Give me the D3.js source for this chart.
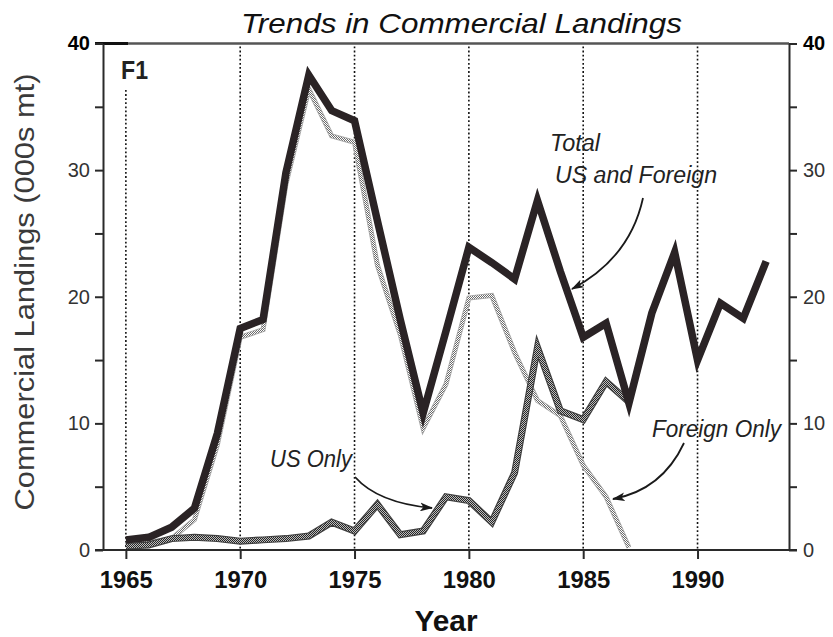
<!DOCTYPE html>
<html>
<head>
<meta charset="utf-8">
<script src="https://cdn.jsdelivr.net/npm/d3@7"></script>
<style>
  html, body { margin: 0; padding: 0; background: #fff; }
  svg { display: block; font-family: "Liberation Sans", Arial, Helvetica, sans-serif; }
</style>
</head>
<body>
<svg id="chart" width="833" height="637"></svg>
<script>
// ---------- data ----------
const years = [1965,1966,1967,1968,1969,1970,1971,1972,1973,1974,1975,1976,1977,1978,1979,
               1980,1981,1982,1983,1984,1985,1986,1987,1988,1989,1990,1991,1992,1993];
const totalValues = [0.8,1.0,1.8,3.3,9.2,17.5,18.2,29.8,37.5,34.7,33.9,26.0,18.2,10.8,17.3,
                     23.9,22.7,21.4,27.6,22.0,16.8,17.9,11.6,18.7,23.5,15.0,19.5,18.3,22.8];
const partYears = [1965,1966,1967,1968,1969,1970,1971,1972,1973,1974,1975,1976,1977,1978,1979,
                   1980,1981,1982,1983,1984,1985,1986,1987];
const usValues = [0.3,0.4,0.9,1.0,0.9,0.7,0.8,0.9,1.1,2.2,1.5,3.6,1.2,1.5,4.2,
                  3.9,2.2,6.1,16.0,11.0,10.3,13.3,11.7];
const foreignValues = [0.5,0.6,0.9,2.4,8.3,16.8,17.4,28.9,36.4,32.7,32.2,22.5,17.0,9.6,13.1,
                       19.9,20.1,15.6,11.8,10.6,6.7,4.2,0.2];
const xTicks = [1965,1970,1975,1980,1985,1990];
const yTicks = [0,5,10,15,20,25,30,35,40];

const titleText = "Trends in Commercial Landings";
const xLabel = "Year";
const yLabel = "Commercial Landings (000s mt)";

// ---------- layout ----------
const svg = d3.select("#chart");
const L = 103, R = 789, T = 43.5, B = 550;
const x = d3.scaleLinear().domain([1964, 1994]).range([L, R]);
const y = d3.scaleLinear().domain([0, 40]).range([B, T]);

const defs = svg.append("defs");
const pUS = defs.append("pattern").attr("id","pUS").attr("patternUnits","userSpaceOnUse")
  .attr("width",2).attr("height",2);
pUS.append("rect").attr("width",2).attr("height",2).attr("fill","#bdbdbd");
pUS.append("rect").attr("x",0).attr("y",0).attr("width",1).attr("height",1).attr("fill","#262626");
pUS.append("rect").attr("x",1).attr("y",1).attr("width",1).attr("height",1).attr("fill","#262626");

const pF = defs.append("pattern").attr("id","pF").attr("patternUnits","userSpaceOnUse")
  .attr("width",2).attr("height",2);
pF.append("rect").attr("width",2).attr("height",2).attr("fill","#ffffff");
pF.append("rect").attr("x",0).attr("y",0).attr("width",1).attr("height",1).attr("fill","#6a6a6a");
pF.append("rect").attr("x",1).attr("y",1).attr("width",1).attr("height",1).attr("fill","#6a6a6a");

defs.append("marker").attr("id","arrow").attr("markerUnits","userSpaceOnUse")
  .attr("viewBox","0 0 12 8").attr("refX",11).attr("refY",4)
  .attr("markerWidth",13).attr("markerHeight",9).attr("orient","auto")
  .append("path").attr("d","M0,0 L12,4 L0,8 L3,4 Z").attr("fill","#1a1a1a");

// ---------- grid (dotted verticals) ----------
svg.append("g").selectAll("line").data(xTicks).join("line")
  .attr("x1", d => x(d)).attr("x2", d => x(d))
  .attr("y1", d => d === 1965 ? 90 : T + 3).attr("y2", B)
  .attr("stroke","#111").attr("stroke-width",1.6).attr("stroke-dasharray","1.8,2.3");

// ---------- lines ----------
const lineT = d3.line().x((d,i) => x(years[i])).y(d => y(d));
const lineP = d3.line().x((d,i) => x(partYears[i])).y(d => y(d));

svg.append("path").attr("d", lineP(foreignValues)).attr("fill","none")
  .attr("stroke","#a8a8a8").attr("stroke-width",5).attr("stroke-linejoin","miter");
svg.append("path").attr("d", lineP(foreignValues)).attr("fill","none")
  .attr("stroke","url(#pF)").attr("stroke-width",3.2).attr("stroke-linejoin","miter");

svg.append("path").attr("d", lineP(usValues)).attr("fill","none")
  .attr("stroke","#404040").attr("stroke-width",7).attr("stroke-linejoin","miter");
svg.append("path").attr("d", lineP(usValues)).attr("fill","none")
  .attr("stroke","url(#pUS)").attr("stroke-width",4.6).attr("stroke-linejoin","miter");

svg.append("path").attr("d", lineT(totalValues)).attr("fill","none")
  .attr("stroke","#2a2325").attr("stroke-width",7.5).attr("stroke-linejoin","miter")
  .attr("stroke-miterlimit",6);

// ---------- frame / axes ----------
svg.append("line").attr("x1",L).attr("x2",R).attr("y1",T).attr("y2",T)
  .attr("stroke","#555").attr("stroke-width",2.5);
svg.append("line").attr("x1",L-8).attr("x2",L+25).attr("y1",T).attr("y2",T)
  .attr("stroke","#111").attr("stroke-width",3);

function styleAxis(g) {
  g.select(".domain").attr("stroke","#2a2a2a").attr("stroke-width",2);
  g.selectAll(".tick line").attr("stroke","#2a2a2a").attr("stroke-width",2);
}

const fmt = d => (d % 10 === 0 ? String(d) : "");
const gl = svg.append("g").attr("transform",`translate(${L},0)`)
  .call(d3.axisLeft(y).tickValues(yTicks).tickFormat(fmt).tickSize(8).tickSizeOuter(0).tickPadding(5));
styleAxis(gl);
gl.attr("font-size",20).attr("font-family","Liberation Sans, Arial, sans-serif");
gl.selectAll(".tick text").attr("fill","#333");
gl.selectAll(".tick text").filter(d => d === 40).attr("font-weight","bold").attr("fill","#000");

const gr = svg.append("g").attr("transform",`translate(${R},0)`)
  .call(d3.axisRight(y).tickValues(yTicks).tickFormat(fmt).tickSize(8).tickSizeOuter(0).tickPadding(6));
styleAxis(gr);
gr.attr("font-size",20).attr("font-family","Liberation Sans, Arial, sans-serif");
gr.selectAll(".tick text").attr("fill","#333");
gr.selectAll(".tick text").filter(d => d === 40).attr("font-weight","bold").attr("fill","#000");

const gb = svg.append("g").attr("transform",`translate(0,${B})`)
  .call(d3.axisBottom(x).tickValues(xTicks).tickFormat(d3.format("d")).tickSize(9).tickSizeOuter(0).tickPadding(12));
styleAxis(gb);
gb.select(".domain").attr("d", `M${L-8},0H${R+8}`);
gb.attr("font-size",24).attr("font-family","Liberation Sans, Arial, sans-serif");
gb.selectAll(".tick text").attr("font-weight","bold").attr("fill","#111")
  .attr("textLength",53).attr("lengthAdjust","spacingAndGlyphs");

// ---------- texts ----------
svg.append("text").attr("x",241).attr("y",33).attr("font-size",28).attr("font-style","italic")
  .attr("fill","#111").attr("textLength",441).attr("lengthAdjust","spacingAndGlyphs").text(titleText);

svg.append("text").attr("x",446).attr("y",631).attr("text-anchor","middle")
  .attr("font-size",30).attr("font-weight","bold").attr("fill","#111")
  .attr("textLength",63).attr("lengthAdjust","spacingAndGlyphs").text(xLabel);

svg.append("text").attr("transform","translate(34,292) rotate(-90)").attr("text-anchor","middle")
  .attr("font-size",28).attr("fill","#3a3a3a").attr("textLength",437)
  .attr("lengthAdjust","spacingAndGlyphs").text(yLabel);

svg.append("text").attr("x",121).attr("y",79).attr("font-size",25).attr("font-weight","bold")
  .attr("fill","#222").attr("textLength",27).attr("lengthAdjust","spacingAndGlyphs").text("F1");

const ann = [
  {t:"Total", x:550, y:151, w:50},
  {t:"US and Foreign", x:555, y:183, w:162},
  {t:"US Only", x:270, y:467, w:82},
  {t:"Foreign Only", x:652, y:437, w:129}
];
svg.append("g").selectAll("text").data(ann).join("text")
  .attr("x",d=>d.x).attr("y",d=>d.y).attr("font-size",23).attr("font-style","italic")
  .attr("fill","#222").attr("textLength",d=>d.w).attr("lengthAdjust","spacingAndGlyphs").text(d=>d.t);

const arrows = [
  "M643,198 Q630,258 572,289",
  "M355,477 Q378,503 432,508",
  "M684,443 Q662,490 613,499"
];
svg.append("g").selectAll("path").data(arrows).join("path")
  .attr("d",d=>d).attr("fill","none").attr("stroke","#1a1a1a").attr("stroke-width",1.8)
  .attr("marker-end","url(#arrow)");
</script>
</body>
</html>
